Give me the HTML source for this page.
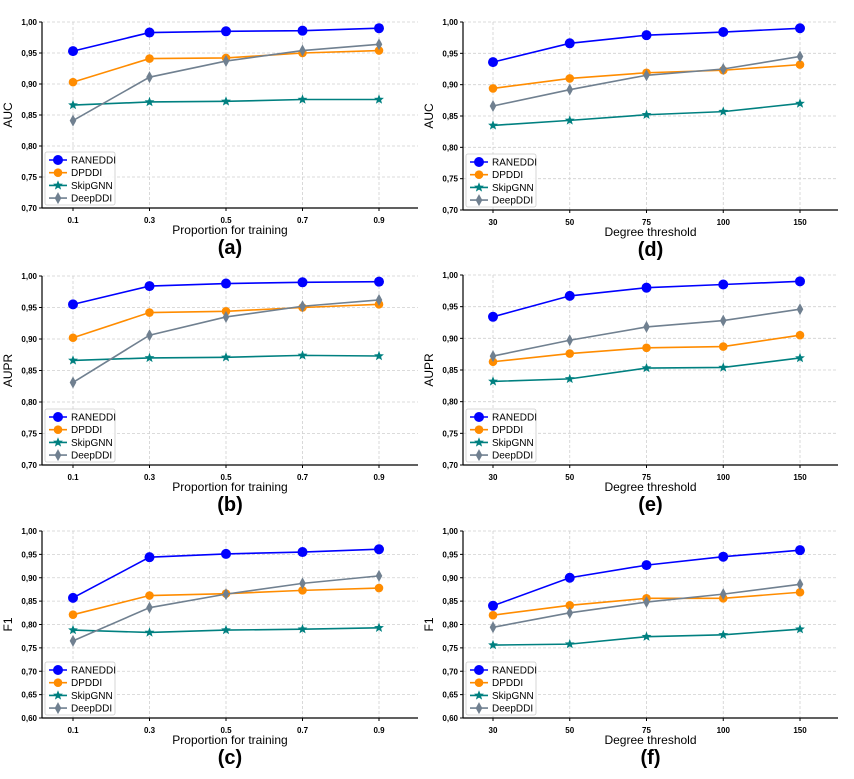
<!DOCTYPE html>
<html><head><meta charset="utf-8">
<style>
html,body{margin:0;padding:0;background:#fff;}
svg{display:block;font-family:"Liberation Sans",sans-serif;}
</style></head>
<body>
<svg id="fig" width="854" height="779" viewBox="0 0 854 779" xmlns="http://www.w3.org/2000/svg"></svg>
<script>
const seriesNames = ["RANEDDI","DPDDI","SkipGNN","DeepDDI"];
const propCats = ["0.1","0.3","0.5","0.7","0.9"];
const degCats = ["30","50","75","100","150"];
const aRan=[.953,.983,.985,.986,.990], aDp=[.903,.941,.942,.950,.954], aSk=[.866,.871,.872,.875,.875], aDe=[.841,.911,.937,.954,.964];
const dRan=[.936,.966,.979,.984,.990], dDp=[.894,.910,.919,.923,.932], dSk=[.835,.843,.852,.857,.870], dDe=[.866,.892,.915,.925,.945];
const bRan=[.955,.984,.988,.990,.991], bDp=[.902,.942,.944,.950,.955], bSk=[.866,.870,.871,.874,.873], bDe=[.831,.906,.935,.952,.962];
const eRan=[.934,.967,.980,.985,.990], eDp=[.863,.876,.885,.887,.905], eSk=[.832,.836,.853,.854,.869], eDe=[.872,.897,.918,.928,.946];
const cRan=[.857,.944,.951,.955,.961], cDp=[.821,.862,.866,.873,.878], cSk=[.788,.783,.788,.790,.793], cDe=[.765,.836,.865,.888,.904];
const fRan=[.840,.900,.927,.945,.959], fDp=[.820,.841,.856,.856,.869], fSk=[.756,.758,.774,.778,.790], fDe=[.794,.825,.848,.865,.886];
const ticks07=["0,70","0,75","0,80","0,85","0,90","0,95","1,00"];
const ticks06=["0,60","0,65","0,70","0,75","0,80","0,85","0,90","0,95","1,00"];

const NS="http://www.w3.org/2000/svg";
const svg=document.getElementById('fig');
function mk(tag,attrs,parent){const e=document.createElementNS(NS,tag);for(const k in attrs)e.setAttribute(k,attrs[k]);(parent||svg).appendChild(e);return e;}
const colors=["#0000ff","#ff8c00","#008080","#708090"];

function marker(g,i,x,y){
  let m;
  if(i===0){m=mk('circle',{cx:x,cy:y,r:5,fill:colors[0]},g);}
  else if(i===1){m=mk('circle',{cx:x,cy:y,r:4.3,fill:colors[1]},g);}
  else if(i===2){let p=[];for(let k=0;k<10;k++){const r=k%2?2.2:5.2;const a=-Math.PI/2+k*Math.PI/5;p.push((x+r*Math.cos(a)).toFixed(1)+','+(y+r*Math.sin(a)).toFixed(1));}
    m=mk('polygon',{points:p.join(' '),fill:colors[2]},g);}
  else {m=mk('polygon',{points:`${x},${y-6} ${x+3.3},${y} ${x},${y+6} ${x-3.3},${y}`,fill:colors[3]},g);}
  
  
}

function panel(o){
  const g=mk('g',{});
  
  
  const ymin=o.ymin, ymax=1.0;
  const ys=v=>o.bot-(v-ymin)/(ymax-ymin)*(o.bot-o.top);
  const xs=i=>o.px0+i*(o.px1-o.px0)/4;
  const nt=o.ticks.length;
  for(let k=0;k<nt;k++){const v=ymin+k*0.05;const y=ys(v);
    if(k>0) mk('line',{x1:o.ax0,x2:o.ax1,y1:y,y2:y,stroke:"#d0d0d0","stroke-width":0.8,"stroke-dasharray":"3,2"},g);
    mk('line',{x1:o.ax0-3,x2:o.ax0,y1:y,y2:y,stroke:"#000","stroke-width":1},g);
    const t=mk('text',{x:o.ax0-5,y:y+3,"text-anchor":"end","font-size":8,"font-weight":"bold"},g);t.textContent=o.ticks[k];
    }
  o.cats.forEach((c,i)=>{const x=xs(i);
    mk('line',{x1:x,x2:x,y1:o.top,y2:o.bot,stroke:"#d0d0d0","stroke-width":0.8,"stroke-dasharray":"3,2"},g);
    mk('line',{x1:x,x2:x,y1:o.bot,y2:o.bot+3,stroke:"#000","stroke-width":1},g);
    const t=mk('text',{x:x,y:o.bot+15,"text-anchor":"middle","font-size":8,"font-weight":"bold"},g);t.textContent=c;
    });
  mk('line',{x1:o.ax0,x2:o.ax0,y1:o.top,y2:o.bot,stroke:"#000","stroke-width":1.2},g);
  mk('line',{x1:o.ax0,x2:o.ax1,y1:o.bot,y2:o.bot,stroke:"#000","stroke-width":1.2},g);
  o.series.forEach((s,i)=>{
    const pts=s.map((v,j)=>xs(j)+','+ys(v)).join(' ');
    const l=mk('polyline',{points:pts,fill:"none",stroke:colors[i],"stroke-width":1.6},g);
    
    
    s.forEach((v,j)=>marker(g,i,xs(j),ys(v)));
  });
  // legend
  const lx=o.ax0+3, ly=o.bot-56;
  const lg=mk('g',{},g);
  
  
  mk('rect',{x:lx,y:ly,width:70,height:53,rx:2,fill:"#fff","fill-opacity":0.85,stroke:"#ccc","stroke-width":0.8},lg);
  seriesNames.forEach((n,i)=>{const y=ly+8+i*12.7;
    mk('line',{x1:lx+4,x2:lx+22,y1:y,y2:y,stroke:colors[i],"stroke-width":1.6},lg);
    marker(lg,i,lx+13,y);
    const t=mk('text',{x:lx+26,y:y+3.5,"font-size":10},lg);t.textContent=n;
    });
  const yt=mk('text',{x:o.ax0-30,y:(o.top+o.bot)/2,"text-anchor":"middle","font-size":12,transform:`rotate(-90 ${o.ax0-30} ${(o.top+o.bot)/2})`},g);
  yt.textContent=o.ylabel;
  const xt=mk('text',{x:(o.ax0+o.ax1)/2,y:o.bot+26,"text-anchor":"middle","font-size":12},g);
  xt.textContent=o.xlabel;
  const pl=mk('text',{x:(o.ax0+o.ax1)/2,y:o.bot+46,"text-anchor":"middle","font-size":20,"font-weight":"bold"},g);
  pl.textContent='('+o.id+')';
}
const L={ax0:42,ax1:418,px0:73,px1:379,cats:propCats,xlabel:"Proportion for training"};
const R={ax0:463,ax1:838,px0:493,px1:800,cats:degCats,xlabel:"Degree threshold"};
panel({...L,id:'a',top:22,bot:208,ymin:.7,ticks:ticks07,ylabel:"AUC",series:[aRan,aDp,aSk,aDe]});
panel({...R,id:'d',top:22,bot:210,ymin:.7,ticks:ticks07,ylabel:"AUC",series:[dRan,dDp,dSk,dDe]});
panel({...L,id:'b',top:276,bot:465,ymin:.7,ticks:ticks07,ylabel:"AUPR",series:[bRan,bDp,bSk,bDe]});
panel({...R,id:'e',top:275,bot:465,ymin:.7,ticks:ticks07,ylabel:"AUPR",series:[eRan,eDp,eSk,eDe]});
panel({...L,id:'c',top:531,bot:718,ymin:.6,ticks:ticks06,ylabel:"F1",series:[cRan,cDp,cSk,cDe]});
panel({...R,id:'f',top:531,bot:718,ymin:.6,ticks:ticks06,ylabel:"F1",series:[fRan,fDp,fSk,fDe]});
</script>
</body></html>
